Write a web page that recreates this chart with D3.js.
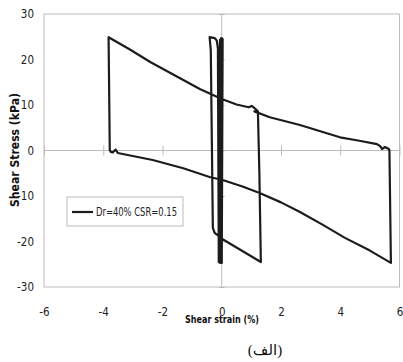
<!DOCTYPE html>
<html><head><meta charset="utf-8">
<script src="https://cdn.jsdelivr.net/npm/d3@7"></script>
<style>
html,body{margin:0;padding:0;background:#fff;}
svg{display:block;}
</style></head>
<body>
<script>
// ---- data ----
const strain = [0, 0.02, 0.0, 0.03, -0.02, 0.01, -0.05, -0.02, -0.08, -0.06, -0.1, -0.13, -0.17, -0.24, -0.41, -0.37, -0.30, -0.24, -0.14, 0.03, 1.32, 1.27, 1.22, 1.11, 1.01, 0.91, 0.5, 0, -0.74, -1.5, -2.4, -3.1, -3.82, -3.78, -3.75, -3.68, -3.58, -3.51, -2.33, -1.3, -0.41, 0.03, 0.7, 1.28, 2.0, 2.64, 3.4, 4.16, 5.0, 5.71, 5.66, 5.64, 5.51, 5.41, 5.34, 5.24, 4.6, 3.99, 3.3, 2.64, 1.62, 1.1];
const stress = [0, 24.6, -24.7, 24.5, -24.7, 24.6, -24.7, 24.7, -24.6, 24.3, -24.5, 22.5, 24.2, 24.7, 24.9, 22, -17, -18.1, -18.6, -19.5, -24.5, -5, 8.6, 9.3, 9.8, 9.5, 10.1, 11.3, 13.5, 16.2, 19.4, 22.2, 24.9, 0.1, -0.3, -0.44, 0.2, -0.55, -2.09, -3.9, -5.82, -6.48, -7.9, -9.34, -11.4, -13.5, -16.3, -19.2, -22.0, -24.7, 0, 0.33, 0.77, 0.33, 1.0, 1.4, 2.2, 2.9, 4.3, 5.6, 7.3, 8.6];
const xTicks = [-6, -4, -2, 0, 2, 4, 6];
const yTicks = [-30, -20, -10, 0, 10, 20, 30];
const seriesName = "Dr=40% CSR=0.15";
const xTitle = "Shear strain (%)";
const yTitle = "Shear Stress (kPa)";
const caption = "(الف)";

// ---- layout ----
const W = 403, H = 362;
const L = 44, R = 399.5, T = 14, B = 287;
const font = "'Liberation Sans Narrow','DejaVu Sans Condensed','Liberation Sans',sans-serif";
const gray = "#bcbcbc";
const fmt = d => String(d);

const svg = d3.select("body").append("svg").attr("width", W).attr("height", H);
const x = d3.scaleLinear().domain([-6, 6]).range([L, R]);
const y = d3.scaleLinear().domain([-30, 30]).range([B, T]);

// plot border
svg.append("rect").attr("x", L).attr("y", T).attr("width", R - L).attr("height", B - T)
  .attr("fill", "none").attr("stroke", gray).attr("stroke-width", 1);

// x tick labels (low)
const gxl = svg.append("g").attr("transform", `translate(0,${B})`)
  .call(d3.axisBottom(x).tickValues(xTicks).tickSize(0).tickPadding(21).tickFormat(fmt));
gxl.select(".domain").remove();
gxl.selectAll("text").attr("font-family", font).attr("font-size", 11.5).attr("fill", "#222");

// y tick labels (left)
const gyl = svg.append("g").attr("transform", `translate(${L},0)`)
  .call(d3.axisLeft(y).tickValues(yTicks).tickSize(0).tickPadding(10).tickFormat(fmt));
gyl.select(".domain").remove();
gyl.selectAll("text").attr("font-family", font).attr("font-size", 11.5).attr("fill", "#222");

// x axis line at y=0 with cross ticks
const gx0 = svg.append("g").attr("transform", `translate(0,${y(0)})`)
  .call(d3.axisBottom(x).tickValues(xTicks).tickSize(5).tickFormat(""));
gx0.select(".domain").attr("stroke", gray).attr("d", `M${L},0H${R}`);
gx0.selectAll(".tick line").attr("stroke", gray).attr("y1", -5).attr("y2", 5);

// y axis line at x=0 with cross ticks
const gy0 = svg.append("g").attr("transform", `translate(${x(0)},0)`)
  .call(d3.axisLeft(y).tickValues(yTicks).tickSize(3).tickFormat(""));
gy0.select(".domain").attr("stroke", gray).attr("d", `M0,${T}V${B}`);
gy0.selectAll(".tick line").attr("stroke", gray).attr("x1", -3).attr("x2", 3);

// curve
const pts = strain.map((s, i) => [s, stress[i]]);
svg.append("path").datum(pts)
  .attr("d", d3.line().x(d => x(d[0])).y(d => y(d[1])))
  .attr("fill", "none").attr("stroke", "#1c1c1c").attr("stroke-width", 2.2)
  .attr("stroke-linejoin", "round").attr("stroke-linecap", "round");

// axis titles
svg.append("text").attr("x", 222).attr("y", 323).attr("text-anchor", "middle")
  .attr("font-family", font).attr("font-weight", "bold").attr("font-size", 11).attr("fill", "#111")
  .attr("textLength", 74).attr("lengthAdjust", "spacingAndGlyphs").text(xTitle);
svg.append("text").attr("transform", `translate(19,150) rotate(-90)`).attr("text-anchor", "middle")
  .attr("font-family", font).attr("font-weight", "bold").attr("font-size", 12).attr("fill", "#111")
  .attr("textLength", 114).attr("lengthAdjust", "spacingAndGlyphs").text(yTitle);

// legend
const lg = svg.append("g");
lg.append("rect").attr("x", 67).attr("y", 197).attr("width", 116).attr("height", 29)
  .attr("fill", "#fff").attr("stroke", gray).attr("stroke-width", 1);
lg.append("line").attr("x1", 72).attr("x2", 93).attr("y1", 212).attr("y2", 212)
  .attr("stroke", "#1c1c1c").attr("stroke-width", 2.2);
lg.append("text").attr("x", 96).attr("y", 216).attr("font-family", font).attr("font-size", 12)
  .attr("fill", "#222").attr("textLength", 81).attr("lengthAdjust", "spacingAndGlyphs").text(seriesName);

// caption
svg.append("text").attr("x", 265).attr("y", 355).attr("text-anchor", "middle")
  .attr("font-family", "'Liberation Serif','DejaVu Serif','DejaVu Sans',serif").attr("font-size", 15)
  .attr("fill", "#111").text(caption);
</script>
</body></html>
